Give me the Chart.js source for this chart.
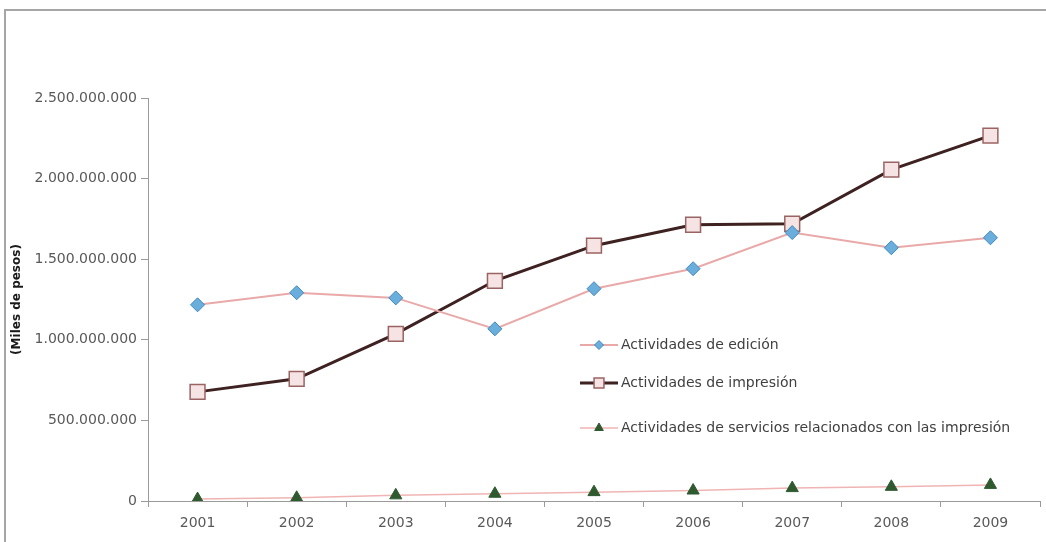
<!DOCTYPE html>
<html>
<head>
<meta charset="utf-8">
<script src="https://cdn.jsdelivr.net/npm/chart.js@4.4.1/dist/chart.umd.min.js"></script>
<style>
  html, body { margin: 0; padding: 0; background: #fff; }
  #wrap { position: relative; width: 1046px; height: 542px; overflow: hidden; }
  #frame { position: absolute; left: 4px; top: 9px; width: 1200px; height: 700px;
           border: 2px solid #a6a6a6; box-sizing: border-box; }
  #c { position: absolute; left: 0; top: 0; }
</style>
</head>
<body>
<div id="wrap">
  <div id="frame"></div>
  <canvas id="c" width="1052" height="542"></canvas>
</div>
<script>
// Producción por actividad, 2001-2009 (miles de pesos)
const years = ['2001', '2002', '2003', '2004', '2005', '2006', '2007', '2008', '2009'];

const edicion   = [1217000000, 1292000000, 1260000000, 1068000000, 1317000000, 1441000000, 1665000000, 1571000000, 1633000000];
const impresion = [ 677000000,  758000000, 1037000000, 1366000000, 1584000000, 1714000000, 1720000000, 2056000000, 2267000000];
const servicios = [  12000000,   20000000,   35000000,   45000000,   55000000,   65000000,   80000000,   88000000,  100000000];

const seriesNames = [
  'Actividades de edición',
  'Actividades de impresión',
  'Actividades de servicios relacionados con las impresión'
];

const yTicks = { min: 0, max: 2500000000, step: 500000000 };

const FONT = 'DejaVu Sans';
const TICK_COLOR = '#595959';

function puntos(v) {
  return String(Math.round(v)).replace(/\B(?=(\d{3})+(?!\d))/g, '.');
}

// Legend drawn inside the plot area, each row at its own height
const insideLegend = {
  id: 'insideLegend',
  afterDraw(chart, args, opts) {
    const ctx = chart.ctx;
    ctx.save();
    ctx.font = opts.fontSize + 'px "' + FONT + '"';
    ctx.textBaseline = 'middle';
    chart.data.datasets.forEach((ds, i) => {
      const y = opts.rows[i];
      const x0 = opts.x;
      const x1 = opts.x + opts.lineLen;
      ctx.strokeStyle = ds.borderColor;
      ctx.lineWidth = ds.borderWidth;
      ctx.beginPath();
      ctx.moveTo(x0, y);
      ctx.lineTo(x1, y);
      ctx.stroke();
      ctx.fillStyle = ds.pointBackgroundColor;
      ctx.strokeStyle = ds.pointBorderColor;
      ctx.lineWidth = ds.pointBorderWidth;
      Chart.helpers.drawPoint(ctx, {
        pointStyle: ds.pointStyle,
        radius: opts.markerRadius[i],
        rotation: 0,
        borderWidth: ds.pointBorderWidth
      }, (x0 + x1) / 2, y);
      ctx.fillStyle = opts.color;
      ctx.textAlign = 'left';
      ctx.fillText(ds.label, x1 + 3, y);
    });
    ctx.restore();
  }
};

new Chart(document.getElementById('c'), {
  type: 'line',
  data: {
    labels: years,
    datasets: [
      {
        label: seriesNames[0],
        data: edicion,
        borderColor: '#e9a9a9',
        borderWidth: 2,
        pointStyle: 'rectRot',
        pointRadius: 7,
        pointBackgroundColor: '#6aaedb',
        pointBorderColor: '#3f88bf',
        pointBorderWidth: 1,
        tension: 0
      },
      {
        label: seriesNames[1],
        data: impresion,
        borderColor: '#3e2121',
        borderWidth: 3,
        pointStyle: 'rect',
        pointRadius: 10.5,
        pointBackgroundColor: '#f6e3e3',
        pointBorderColor: '#9a6464',
        pointBorderWidth: 1.5,
        tension: 0
      },
      {
        label: seriesNames[2],
        data: servicios,
        borderColor: '#f0b4b4',
        borderWidth: 1.5,
        pointStyle: 'triangle',
        pointRadius: 7,
        pointBackgroundColor: '#2f5a2f',
        pointBorderColor: '#2f5a2f',
        pointBorderWidth: 1,
        tension: 0
      }
    ]
  },
  options: {
    responsive: false,
    animation: false,
    layout: { padding: { top: 98, right: 7, left: 10, bottom: 0 } },
    plugins: {
      legend: { display: false },
      tooltip: { enabled: false },
      insideLegend: {
        x: 580, lineLen: 38, rows: [345, 383, 428], fontSize: 14,
        markerRadius: [4.5, 7, 5], color: '#404040'
      }
    },
    scales: {
      x: {
        offset: true,
        grid: { offset: true, drawOnChartArea: false, tickLength: 6, color: '#9a9a9a' },
        border: { color: '#9a9a9a', width: 1 },
        ticks: { color: TICK_COLOR, font: { family: FONT, size: 14 }, padding: 8, maxRotation: 0 },
        afterFit(scale) {
          scale.height = 41;
          scale.paddingLeft = 0;
          scale.paddingRight = 0;
        }
      },
      y: {
        min: yTicks.min,
        max: yTicks.max,
        grid: { drawOnChartArea: false, tickLength: 7, color: '#9a9a9a' },
        border: { color: '#9a9a9a', width: 1 },
        ticks: {
          stepSize: yTicks.step,
          color: TICK_COLOR,
          font: { family: FONT, size: 14 },
          padding: 4,
          callback: (v) => puntos(v)
        },
        title: {
          display: true,
          text: '(Miles de pesos)',
          color: '#1a1a1a',
          font: { family: FONT, size: 12, weight: 'bold' },
          padding: { top: 0, bottom: 0 }
        },
        afterFit(scale) { scale.width = 138; }
      }
    }
  },
  plugins: [insideLegend]
});
</script>
</body>
</html>
